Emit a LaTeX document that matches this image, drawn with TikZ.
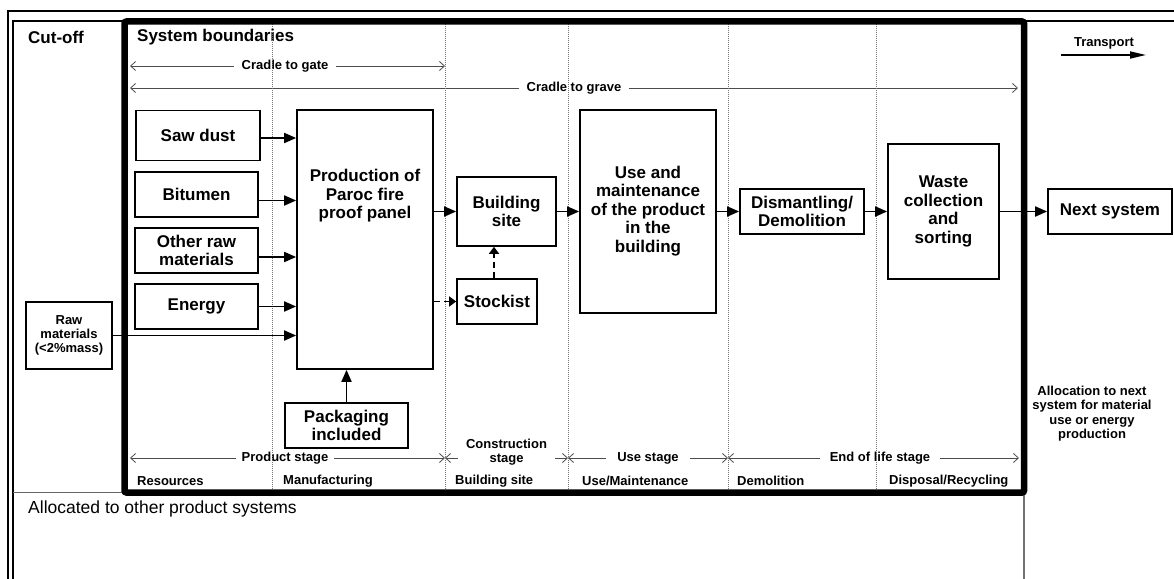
\documentclass[tikz,border=0pt]{standalone}
\usepackage{fontspec}
\setmainfont{Liberation Sans}
\usetikzlibrary{arrows.meta}
\newcommand\myBig{\fontsize{17}{18.5}\selectfont\bfseries}
\newcommand\mySmall{\fontsize{13}{14.5}\selectfont\bfseries}
\begin{document}
\begin{tikzpicture}[x=1pt,y=-1pt,
  box/.style={draw, line width=1.7pt, align=center, inner sep=0pt, font=\myBig},
  txt/.style={align=center, inner sep=0pt, font=\mySmall},
  bigtxt/.style={align=center, inner sep=0pt, font=\myBig},
  arr/.style={line width=1.8pt, -{Triangle[length=12pt,width=10pt]}},
  darr/.style={line width=1.8pt, dash pattern=on 6pt off 4pt, -{Triangle[length=7pt,width=10pt]}},
  span/.style={draw=black!70, line width=0.8pt, {Straight Barb[length=5pt,width=9pt]}-{Straight Barb[length=5pt,width=9pt]}},
  spanlbl/.style={font=\mySmall, fill=white, inner xsep=8pt, inner ysep=1pt, align=center},
  divider/.style={draw=black!55, line width=0.7pt, dash pattern=on 1pt off 1pt}
]
\useasboundingbox (0,0) rectangle (1174,578);
\clip (0,0) rectangle (1174,578);
\fill[white] (0,0) rectangle (1174,578);

% frames
\draw[line width=1.3pt] (8,600) -- (8,11) -- (1200,11);
\draw[line width=1.3pt] (13,600) -- (13,21) -- (1200,21);
\draw[line width=1pt, black!60] (13,492) -- (124,492);
\draw[line width=1.2pt, black!55] (1024,492) -- (1024,600);

% headers
\node[bigtxt, anchor=west] (cutoff) at (28,37) {Cut-off};
\node[bigtxt, anchor=west] (sysb) at (137,37) {System boundaries};
\node[anchor=west, inner sep=0pt, font=\fontsize{17.5}{19}\selectfont] (alloc) at (28,509) {Allocated to other product systems};

% span arrows top
\coordinate (cgL) at (130,66); \coordinate (cgR) at (445,66);
\draw[span] (cgL) -- (cgR);
\node[spanlbl] (cg) at (285,66) {Cradle to gate};
\coordinate (crL) at (130,88); \coordinate (crR) at (1018,88);
\draw[span] (crL) -- (crR);
\node[spanlbl] (cr) at (574,88) {Cradle to grave};

% span arrows bottom
\coordinate (s0) at (130,458); \coordinate (s1) at (445,458);
\coordinate (s2) at (568,458); \coordinate (s3) at (728,458);
\coordinate (s4) at (1019,458);
\draw[span] (s0) -- (s1);
\draw[span] (s1) -- (s2);
\draw[span] (s2) -- (s3);
\draw[span] (s3) -- (s4);
\node[spanlbl, inner xsep=6pt] (ps) at (285,458) {Product stage};
\node[spanlbl, inner xsep=8pt] (cs) at (506.5,452) {Construction\\[-0.5pt]stage};
\node[spanlbl, inner xsep=11pt] (us) at (648,458) {Use stage};
\node[spanlbl, inner xsep=10pt] (es) at (880,458) {End of life stage};

% stage names
\node[txt, anchor=west] (n1) at (137,481) {Resources};
\node[txt, anchor=west] (n2) at (283,481) {Manufacturing};
\node[txt, anchor=west] (n3) at (455,481) {Building site};
\node[txt, anchor=west] (n4) at (582,481) {Use/Maintenance};
\node[txt, anchor=west] (n5) at (737,481) {Demolition};
\node[txt, anchor=west] (n6) at (889,481) {Disposal/Recycling};

% dividers
\foreach \x in {272,445,568,728,876} \draw[divider] (\x,24) -- (\x,489);

% boxes
\node[box, minimum width=124pt, minimum height=50pt] (saw) at (198,135.5) {Saw dust};
\node[box, minimum width=123pt, minimum height=45pt] (bit) at (196.5,194.5) {Bitumen};
\node[box, minimum width=123pt, minimum height=45pt] (oth) at (196.5,250.5) {Other raw\\materials};
\node[box, minimum width=123pt, minimum height=45pt] (ene) at (196.5,306.5) {Energy};
\node[box, font=\fontsize{13}{14.3}\selectfont\bfseries, minimum width=86pt, minimum height=67pt] (raw) at (69,335.5) {Raw\\materials\\(<2\%mass)};
\node[box, minimum width=136pt, minimum height=259pt] (prod) at (365,239.5) {};
\node[bigtxt] (prodt) at (365,196) {Production of\\Paroc fire\\proof panel};
\node[box, minimum width=123pt, minimum height=45pt] (pack) at (346.5,425.5) {Packaging\\included};
\node[box, minimum width=99pt, minimum height=69pt] (bsite) at (506.5,211.5) {Building\\site};
\node[box, minimum width=80pt, minimum height=45pt] (stock) at (497,301.5) {Stockist};
\node[box, minimum width=136pt, minimum height=203pt] (use) at (648,211.5) {};
\node[bigtxt] (uset) at (648,211) {Use and\\maintenance\\of the product\\in the\\building};
\node[box, minimum width=124pt, minimum height=45pt] (dism) at (802,211.5) {Dismantling/\\Demolition};
\node[box, minimum width=111pt, minimum height=135pt] (waste) at (943.5,211.5) {Waste\\collection\\and\\sorting};
\node[box, minimum width=124pt, minimum height=45pt] (next) at (1110,211.5) {Next system};

% thick system boundary
\draw[line width=6.5pt, rounded corners=2pt] (124.5,21.5) rectangle (1024,492.5);

% connectors
\draw[arr] ([yshift=-2.5pt]saw.east) -- ([yshift=-2.5pt]saw.east -| prod.west);
\draw[arr] ([yshift=-6pt]bit.east) -- ([yshift=-6pt]bit.east -| prod.west);
\draw[arr] ([yshift=-6.5pt]oth.east) -- ([yshift=-6.5pt]oth.east -| prod.west);
\draw[arr] (ene.east) -- (ene.east -| prod.west);
\draw[arr] (raw.east) -- (raw.east -| prod.west);
\draw[arr] (pack.north) -- (pack.north |- prod.south);
\draw[arr] (prod.east |- bsite.west) -- (bsite.west);
\draw[darr] (prod.east |- stock.west) -- (stock.west);
\draw[darr] ([xshift=-3pt]stock.north) -- ([xshift=-3pt]stock.north |- bsite.south);
\draw[arr] (bsite.east) -- (bsite.east -| use.west);
\draw[arr] (use.east |- dism.west) -- (dism.west);
\draw[arr] (dism.east) -- (dism.east -| waste.west);
\draw[arr] (waste.east |- next.west) -- (next.west);

% transport legend
\node[txt] (tr) at (1104,43) {Transport};
\coordinate (trA) at (1061,55); \coordinate (trB) at (1146,55);
\draw[line width=1.7pt, -{Triangle[length=16pt,width=7pt]}] (trA) -- (trB);

% allocation note
\node[txt, font=\fontsize{13}{14.4}\selectfont\bfseries] (allocnext) at (1092,413.5) {Allocation to next\\system for material\\use or energy\\production};
\end{tikzpicture}
\end{document}
